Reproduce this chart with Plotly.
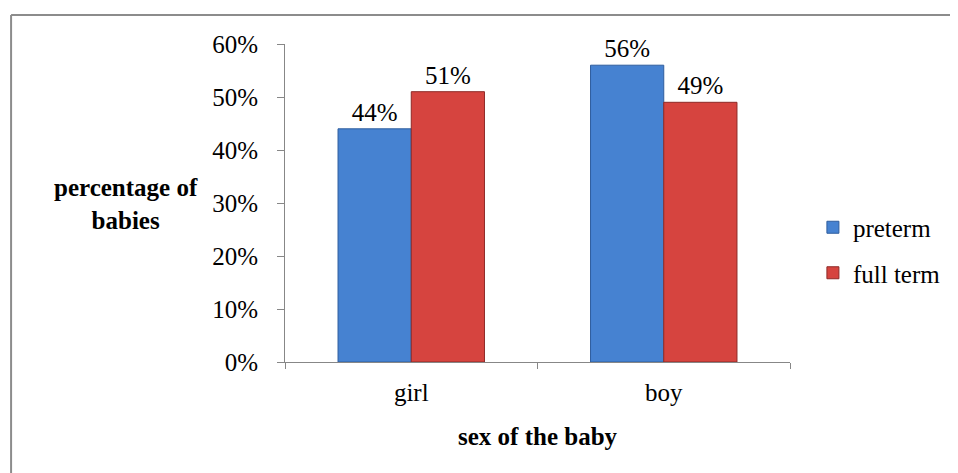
import plotly.graph_objects as go

categories = ["girl", "boy"]
preterm = [0.44, 0.56]
full_term = [0.51, 0.49]
preterm_labels = ["44%", "56%"]
full_term_labels = ["51%", "49%"]

FONT = "Liberation Serif"
FS = 25

# page body has 8px margin; figure is offset by it
W, H = 950, 465
ML, MR, MT, MB = 277, 166, 36, 111
PW = W - ML - MR
PH = H - MT - MB


def px_x(page_x):
    return (page_x - 8 - ML) / PW


def px_y(page_y):
    return (H - MB - (page_y - 8)) / PH


fig = go.Figure()
fig.add_trace(go.Bar(
    name="preterm", x=categories, y=preterm, text=preterm_labels,
    textposition="outside", cliponaxis=False, legendgroup="a",
    marker=dict(color="#4682D1", line=dict(color="#2F5E9E", width=1)),
    textfont=dict(family=FONT, size=FS, color="black"),
))
fig.add_trace(go.Bar(
    name="full term", x=categories, y=full_term, text=full_term_labels,
    textposition="outside", cliponaxis=False, legendgroup="b",
    marker=dict(color="#D6443F", line=dict(color="#8E2A27", width=1)),
    textfont=dict(family=FONT, size=FS, color="black"),
))

fig.update_layout(
    width=W, height=H,
    margin=dict(l=ML, r=MR, t=MT, b=MB),
    paper_bgcolor="white", plot_bgcolor="white",
    barmode="group", bargap=0.42, bargroupgap=0,
    font=dict(family=FONT, size=FS, color="black"),
    showlegend=True,
    legend=dict(x=px_x(815), y=px_y(250), xanchor="left", yanchor="middle",
                font=dict(family=FONT, size=FS), tracegroupgap=10,
                itemwidth=30, bgcolor="rgba(0,0,0,0)"),
    xaxis=dict(showline=True, linecolor="#878787", linewidth=1,
               ticks="outside", ticklen=6, tickcolor="#878787",
               tickson="boundaries", showgrid=False, ticklabelstandoff=8,
               tickfont=dict(family=FONT, size=FS)),
    yaxis=dict(range=[0, 0.6], dtick=0.1, tickformat=".0%",
               showline=True, linecolor="#878787", linewidth=1,
               ticks="outside", ticklen=7, tickcolor="#878787",
               showgrid=False, zeroline=False, ticklabelstandoff=14,
               tickfont=dict(family=FONT, size=FS)),
    shapes=[
        dict(type="line", xref="paper", yref="paper",
             x0=px_x(10), x1=px_x(1000),
             y0=px_y(15), y1=px_y(15),
             line=dict(color="#8C8C8C", width=2)),
        dict(type="line", xref="paper", yref="paper",
             x0=px_x(10), x1=px_x(10),
             y0=px_y(15), y1=px_y(520),
             line=dict(color="#8C8C8C", width=2)),
    ],
    annotations=[
        dict(text="<b>percentage of<br>babies</b>", xref="paper", yref="paper",
             x=px_x(125), y=px_y(204), xanchor="center", yanchor="middle",
             showarrow=False, font=dict(family=FONT, size=FS), align="center"),
        dict(text="<b>sex of the baby</b>", xref="paper", yref="paper",
             x=0.5, y=px_y(436), xanchor="center", yanchor="middle",
             showarrow=False, font=dict(family=FONT, size=FS)),
    ],
)
fig.write_html("out.html")
